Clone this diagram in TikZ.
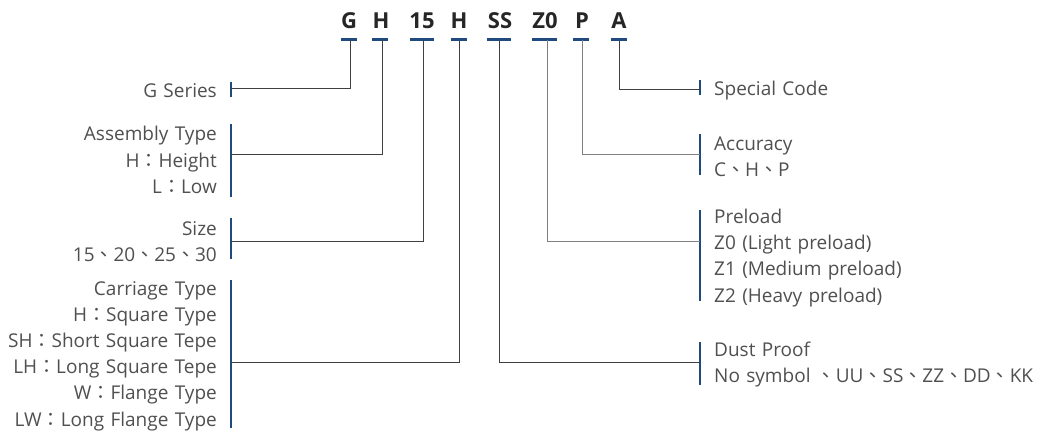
\documentclass[tikz,border=0pt]{standalone}
\usepackage{fontspec}
\setmainfont{Open Sans}
\newfontfamily\cjk{Noto Sans CJK TC}
\newcommand\dun{{\cjk 、}}
\newcommand\cln{{\cjk ：}}
\definecolor{barblue}{HTML}{1F4A7E}
\definecolor{wiredark}{HTML}{404040}
\definecolor{wirelight}{HTML}{808080}
\definecolor{txtcol}{HTML}{505050}
\definecolor{codecol}{HTML}{262626}
\tikzset{
  code/.style={font=\fontsize{22}{26}\selectfont\bfseries, text=codecol, anchor=base, inner sep=0},
  uline/.style={line width=2.4pt, draw=barblue},
  bar/.style={line width=2.6pt, draw=barblue},
  wire/.style={line width=1pt, draw=wiredark},
  wirel/.style={line width=1pt, draw=wirelight},
  desc/.style={font=\fontsize{19}{26.2}\selectfont, text=txtcol, inner sep=0},
  ldesc/.style={desc, text width=215pt, align=right, anchor=base east},
  rdesc/.style={desc, text width=340pt, align=left, anchor=base west}
}
\begin{document}
\begin{tikzpicture}[x=1pt,y=-1pt]
\useasboundingbox[fill=white] (0,0) rectangle (1057,433);

% part-number codes
\node[code] (cG) at (349,29) {G};
\node[code] (cH) at (381,29) {H};
\node[code] (cS) at (422,29) {15};
\node[code] (cC) at (459,29) {H};
\node[code] (cD) at (500,29) {SS};
\node[code] (cZ) at (545,29) {Z0};
\node[code] (cP) at (582,29) {P};
\node[code] (cA) at (619,29) {A};

% underlines below each code
\draw[uline] ([shift={(-8,10.5)}]cG.base) -- ++(16,0);
\draw[uline] ([shift={(-9,10.5)}]cH.base) -- ++(16,0);
\draw[uline] ([shift={(-12,10.5)}]cS.base) -- ++(24,0);
\draw[uline] ([shift={(-8,10.5)}]cC.base) -- ++(16,0);
\draw[uline] ([shift={(-13,10.5)}]cD.base) -- ++(24,0);
\draw[uline] ([shift={(-13,10.5)}]cZ.base) -- ++(25,0);
\draw[uline] ([shift={(-9,10.5)}]cP.base) -- ++(16,0);
\draw[uline] ([shift={(-8,10.5)}]cA.base) -- ++(16,0);

% stem start points
\coordinate (uG) at (350,40.5);
\coordinate (uH) at (382,40.5);
\coordinate (uS) at (423,40.5);
\coordinate (uC) at (459,40.5);
\coordinate (uD) at (499,40.5);
\coordinate (uZ) at (547,40.5);
\coordinate (uP) at (582,40.5);
\coordinate (uA) at (619,40.5);

% left descriptions
\node[ldesc] (dG) at (217,98) {G Series};
\node[ldesc] (dH) at (217,141) {Assembly Type\\H\cln Height\\L\cln Low};
\node[ldesc] (dS) at (217,235.5) {Size\\15\dun 20\dun 25\dun 30};
\node[ldesc] (dC) at (217,295) {Carriage Type\\H\cln Square Type\\SH\cln Short Square Tepe\\LH\cln Long Square Tepe\\W\cln Flange Type\\LW\cln Long Flange Type};

% right descriptions
\node[rdesc] (dA) at (714,96) {Special Code};
\node[rdesc] (dP) at (714,150) {Accuracy\\C\dun H\dun P};
\node[rdesc] (dZ) at (714,223.5) {Preload\\Z0 (Light preload)\\Z1 (Medium preload)\\Z2 (Heavy preload)};
\node[rdesc] (dD) at (714,356.5) {Dust Proof\\No symbol \dun UU\dun SS\dun ZZ\dun DD\dun KK};

% blue bars beside each description
\draw[bar] (231,82) -- (231,97);   \coordinate (bG) at (231,89);
\draw[bar] (231,124) -- (231,197); \coordinate (bH) at (231,154);
\draw[bar] (231,218) -- (231,259); \coordinate (bS) at (231,241);
\draw[bar] (231,280) -- (231,428); \coordinate (bC) at (231,362);
\draw[bar] (700,80) -- (700,95);   \coordinate (bA) at (700,90);
\draw[bar] (700,134) -- (700,175); \coordinate (bP) at (700,154);
\draw[bar] (700,210) -- (700,301); \coordinate (bZ) at (700,241);
\draw[bar] (700,342) -- (700,385); \coordinate (bD) at (700,362);

% connectors
\draw[wire] (uG) |- (bG);
\draw[wire] (uH) |- (bH);
\draw[wire] (uS) |- (bS);
\draw[wire] (uC) |- (bC);
\draw[wire] (uD) |- (bD);
\draw[wirel] (uZ) |- (bZ);
\draw[wirel] (uP) |- (bP);
\draw[wire] (uA) |- (bA);
\end{tikzpicture}
\end{document}
